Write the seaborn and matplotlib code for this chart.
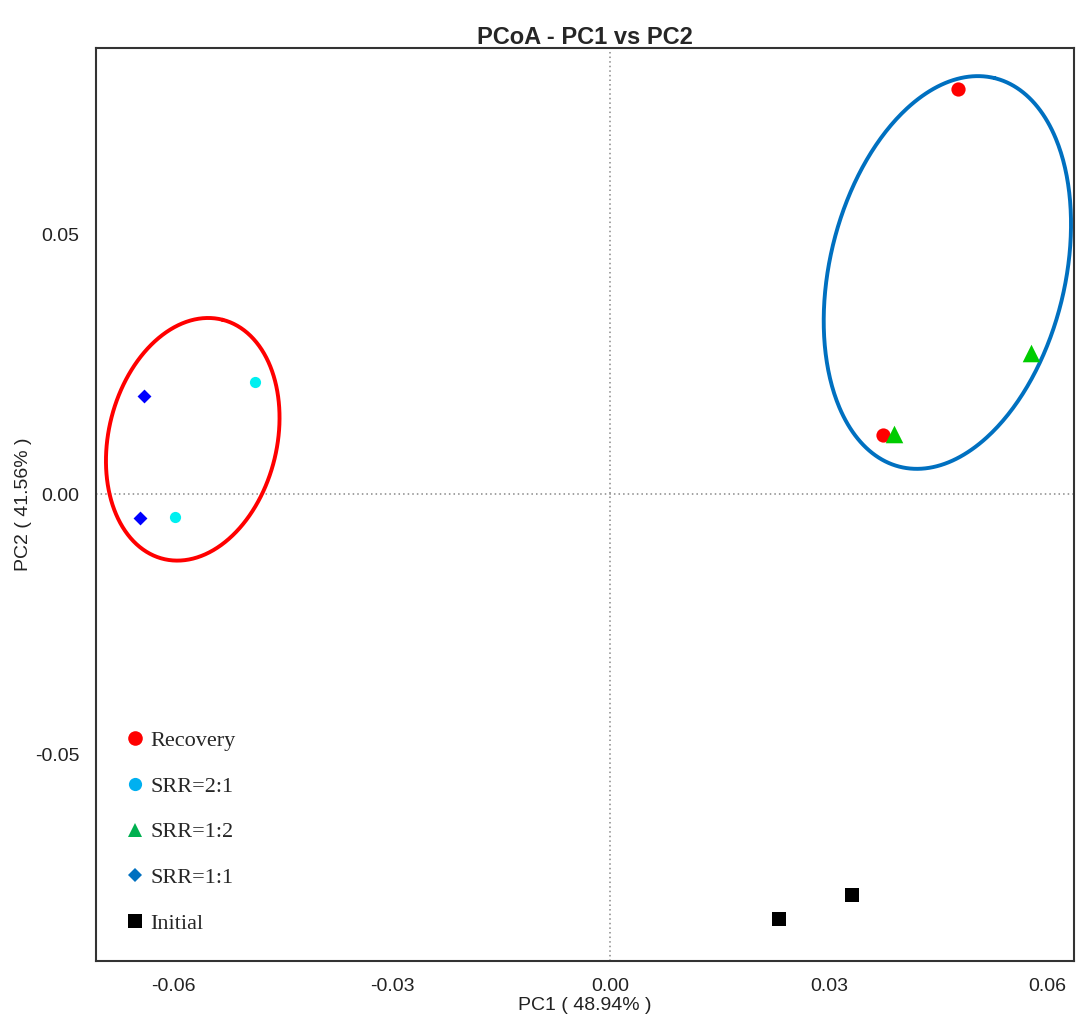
import numpy as np
import pandas as pd
import seaborn as sns
import matplotlib.pyplot as plt
from matplotlib.lines import Line2D

# PCoA scores
groups = ["Recovery", "Recovery", "SRR=2:1", "SRR=2:1", "SRR=1:2", "SRR=1:2",
          "SRR=1:1", "SRR=1:1", "Initial", "Initial"]
pc1 = [0.0478, 0.0374, -0.0489, -0.0598, 0.0578, 0.0390,
       -0.0641, -0.0646, 0.0231, 0.0332]
pc2 = [0.0780, 0.0114, 0.0217, -0.0044, 0.0273, 0.0117,
       0.0189, -0.0045, -0.0818, -0.0770]

group_order = ["Recovery", "SRR=2:1", "SRR=1:2", "SRR=1:1", "Initial"]
point_colors = ["#FF0000", "#00F0F0", "#00CC00", "#0000FF", "#000000"]
legend_colors = ["#FF0000", "#00B0F0", "#00B050", "#0070C0", "#000000"]
markers = ["o", "o", "^", "D", "s"]
point_sizes = [105, 65, 160, 50, 110]
legend_sizes = [10.5, 9.5, 10, 6.8, 9.6]

# group ellipses: centre, first and second conjugate half-axes (data units)
ell_centers = [(-0.0574, 0.0106), (0.0463, 0.0427)]
ell_axis_a = [(0.0041, 0.0230), (0.0065, 0.0374)]
ell_axis_b = [(-0.0112, 0.0040), (-0.0157, 0.0054)]
ell_colors = ["#FF0000", "#0070C0"]

df = pd.DataFrame({"group": groups, "PC1": pc1, "PC2": pc2})

sns.set_style("white")
plt.rcParams["font.family"] = ["Liberation Sans", "DejaVu Sans"]

fig = plt.figure(figsize=(10.77, 10.19), dpi=100)
ax = fig.add_axes([0.0891, 0.0569, 0.9081, 0.896])

# reference lines through the origin
ax.axvline(0, color="#888888", linestyle=(0, (1, 2)), linewidth=1.1, zorder=1)
ax.axhline(0, color="#888888", linestyle=(0, (1, 2)), linewidth=1.1, zorder=1)

# ellipses
t = np.linspace(0, 2 * np.pi, 400)
for c, a, b, col in zip(ell_centers, ell_axis_a, ell_axis_b, ell_colors):
    ex = c[0] + a[0] * np.cos(t) + b[0] * np.sin(t)
    ey = c[1] + a[1] * np.cos(t) + b[1] * np.sin(t)
    ax.plot(ex, ey, color=col, linewidth=2.8, zorder=2)

# points
for g, col, m, s in zip(group_order, point_colors, markers, point_sizes):
    sub = df[df["group"] == g]
    sns.scatterplot(data=sub, x="PC1", y="PC2", color=col, marker=m, s=s,
                    linewidth=0, ax=ax, legend=False, zorder=3)

ax.set_xlim(-0.0707, 0.0637)
ax.set_ylim(-0.0898, 0.0859)
ax.set_xticks([-0.06, -0.03, 0.0, 0.03, 0.06])
ax.set_yticks([-0.05, 0.0, 0.05])
ax.set_xticklabels(["-0.06", "-0.03", "0.00", "0.03", "0.06"])
ax.set_yticklabels(["-0.05", "0.00", "0.05"])

for sp in ax.spines.values():
    sp.set_color("#333333")
    sp.set_linewidth(1.5)
ax.tick_params(direction="out", length=6, width=1, color="#555555",
               labelsize=14, labelcolor="#222222", pad=6)

ax.set_xlabel("PC1 ( 48.94% )", fontsize=14, color="#222222", labelpad=2)
ax.set_ylabel("PC2 ( 41.56% )", fontsize=14, color="#222222", labelpad=2)
ax.set_title("PCoA - PC1 vs PC2", fontsize=17, fontweight="bold", pad=3)

# legend (colours differ slightly from the plotted points, as in the reference)
handles = [Line2D([], [], linestyle="none", marker=m, color=c, markersize=ms,
                  markeredgewidth=0, label=g)
           for g, c, m, ms in zip(group_order, legend_colors, markers, legend_sizes)]
ax.legend(handles=handles, loc="lower left", bbox_to_anchor=(0.031, 0.03),
          frameon=False, borderpad=0, borderaxespad=0, handlelength=0.8,
          handletextpad=0.3, labelspacing=1.13,
          prop={"family": "Liberation Serif", "size": 16})

fig.savefig("out.png", dpi=100, facecolor="white")
